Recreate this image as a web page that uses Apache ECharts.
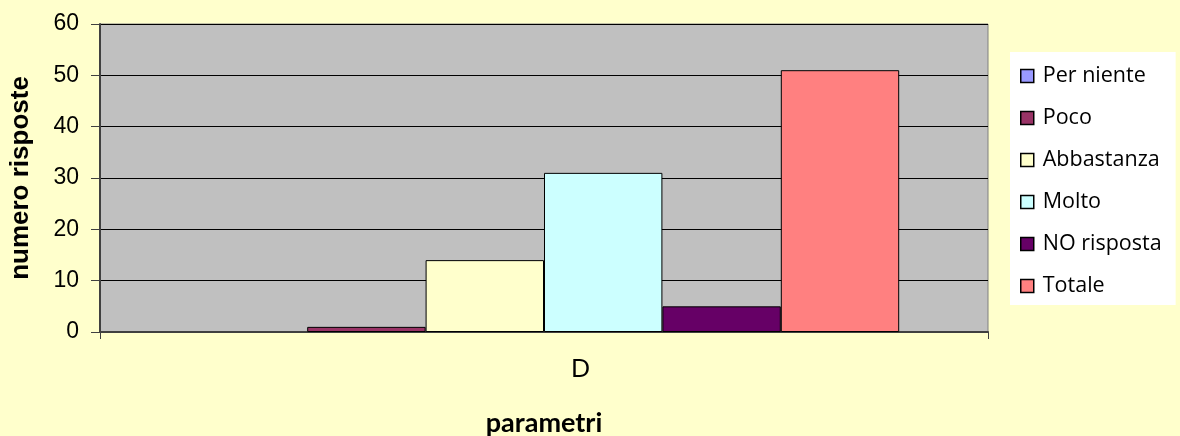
<!DOCTYPE html>
<html><head><meta charset="utf-8">
<script src="https://cdn.jsdelivr.net/npm/echarts@6/dist/echarts.min.js"></script>
<style>html,body{margin:0;padding:0;background:#FFFFCC}#c{width:1180px;height:436px}</style>
</head><body><div id="c"></div>
<script>
const categories = ['D'];
const seriesNames = ['Per niente','Poco','Abbastanza','Molto','NO risposta','Totale'];
const seriesValues = [[0],[1],[14],[31],[5],[51]];
const seriesColors = ['#9999FF','#993366','#FFFFCC','#CCFFFF','#660066','#FF8080'];
const yTicks = [0,10,20,30,40,50,60];

const chart = echarts.init(document.getElementById('c'), null, {renderer:'canvas'});
chart.setOption({
  backgroundColor:'#FFFFCC',
  animation:false,
  grid:{left:100,right:192,top:24,bottom:104,outerBoundsMode:'none',containLabel:false,
    show:true,backgroundColor:'#C0C0C0',borderColor:'#808080',borderWidth:1},
  legend:{
    orient:'vertical',left:1010,top:52,backgroundColor:'#FFFFFF',
    padding:[13,14,8,10],itemWidth:13,itemHeight:13,itemGap:20,
    icon:'rect',
    itemStyle:{borderColor:'#000',borderWidth:1.5},
    textStyle:{fontFamily:'Open Sans',fontSize:21.5,color:'#000',lineHeight:22,padding:[0,0,0,4]},
    data:seriesNames
  },
  xAxis:{
    type:'category',data:categories,
    name:'parametri',nameLocation:'middle',nameGap:78,
    nameTextStyle:{fontFamily:'Lato',fontWeight:'bold',fontSize:27,color:'#000'},
    axisLine:{show:true,lineStyle:{color:'#404040',width:2}},
    axisTick:{show:true,length:7,lineStyle:{color:'#404040'}},
    axisLabel:{fontFamily:'Lato',fontSize:25,color:'#000',margin:24,padding:[0,0,0,73]}
  },
  yAxis:{
    type:'value',min:0,max:60,interval:10,
    name:'numero risposte',nameLocation:'middle',nameGap:66,nameRotate:90,
    nameTextStyle:{fontFamily:'Liberation Sans',fontWeight:'bold',fontSize:26,color:'#000'},
    axisLine:{show:true,lineStyle:{color:'#404040',width:2}},
    axisTick:{show:true,length:9,lineStyle:{color:'#404040'}},
    axisLabel:{fontFamily:'Liberation Sans',fontSize:23,color:'#000',margin:21,
      formatter:v=>yTicks.includes(v)?String(v):''},
    splitLine:{show:true,lineStyle:{color:'#000',width:1}}
  },
  series: seriesNames.map((n,i)=>({
    name:n,type:'bar',data:seriesValues[i],
    barGap:'0%',barCategoryGap:'20%',
    itemStyle:{color:seriesColors[i],borderColor:'#000',borderWidth:seriesValues[i][0]===0?0:1}
  }))
});
</script></body></html>
